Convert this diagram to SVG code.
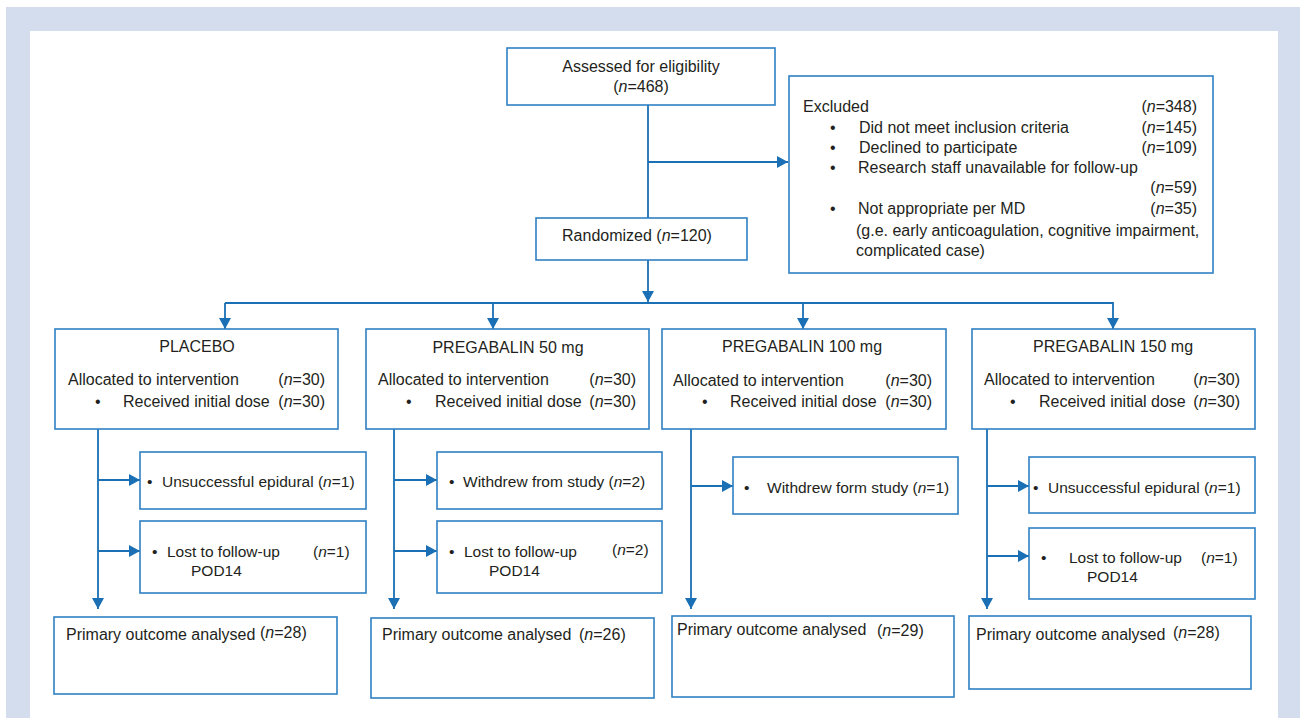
<svg xmlns="http://www.w3.org/2000/svg" width="1300" height="718" viewBox="0 0 1300 718">
<style>
text{font-family:"Liberation Sans",Arial,sans-serif;font-size:16px;fill:#231f20}
.s{font-size:15.5px}
.i{font-style:italic}
.box{fill:#fff;stroke:#2f80c3;stroke-width:1.6}
.c{fill:none;stroke:#1a6fb5;stroke-width:1.8}
.m{text-anchor:middle}
.e{text-anchor:end}
</style>
<defs>
<marker id="ah" markerUnits="userSpaceOnUse" markerWidth="12" markerHeight="12" refX="11" refY="6" orient="auto">
<path d="M0,0 L11,6 L0,12 z" fill="#1a6fb5"/>
</marker>
</defs>
<rect x="6" y="7" width="1294" height="711" fill="#d4ddee"/>
<rect x="30" y="31" width="1248" height="687" fill="#fff"/>

<g id="connectors">
<line class="c" x1="648" y1="105" x2="648" y2="218"/>
<line class="c" x1="648" y1="162" x2="788" y2="162" marker-end="url(#ah)"/>
<line class="c" x1="648" y1="260" x2="648" y2="302" marker-end="url(#ah)"/>
<polyline class="c" points="225,303 1113,303 1113,329" marker-end="url(#ah)"/>
<line class="c" x1="225" y1="303" x2="225" y2="329" marker-end="url(#ah)"/>
<line class="c" x1="493" y1="303" x2="493" y2="329" marker-end="url(#ah)"/>
<line class="c" x1="803" y1="303" x2="803" y2="329" marker-end="url(#ah)"/>
<line class="c" x1="98" y1="429" x2="98" y2="609" marker-end="url(#ah)"/>
<line class="c" x1="98" y1="480" x2="140" y2="480" marker-end="url(#ah)"/>
<line class="c" x1="98" y1="551" x2="140" y2="551" marker-end="url(#ah)"/>
<line class="c" x1="394" y1="429" x2="394" y2="609" marker-end="url(#ah)"/>
<line class="c" x1="394" y1="480" x2="437" y2="480" marker-end="url(#ah)"/>
<line class="c" x1="394" y1="551" x2="437" y2="551" marker-end="url(#ah)"/>
<line class="c" x1="691" y1="429" x2="691" y2="609" marker-end="url(#ah)"/>
<line class="c" x1="691" y1="486" x2="733" y2="486" marker-end="url(#ah)"/>
<line class="c" x1="987" y1="429" x2="987" y2="609" marker-end="url(#ah)"/>
<line class="c" x1="987" y1="486" x2="1029" y2="486" marker-end="url(#ah)"/>
<line class="c" x1="987" y1="556" x2="1029" y2="556" marker-end="url(#ah)"/>
</g>

<g id="assessed">
<rect class="box" x="507" y="48" width="268" height="57"/>
<text class="m" x="641" y="72">Assessed for eligibility</text>
<text class="m" x="641" y="92">(<tspan class="i">n</tspan>=468)</text>
</g>

<g id="excluded">
<rect class="box" x="789" y="76" width="424" height="197"/>
<text x="803" y="112">Excluded</text>
<text class="e" x="1197" y="112">(<tspan class="i">n</tspan>=348)</text>
<text x="830" y="133">•</text>
<text x="859" y="133">Did not meet inclusion criteria</text>
<text class="e" x="1197" y="133">(<tspan class="i">n</tspan>=145)</text>
<text x="830" y="153">•</text>
<text x="859" y="153">Declined to participate</text>
<text class="e" x="1197" y="153">(<tspan class="i">n</tspan>=109)</text>
<text x="830" y="173">•</text>
<text x="858" y="173">Research staff unavailable for follow-up</text>
<text class="e" x="1197" y="193">(<tspan class="i">n</tspan>=59)</text>
<text x="830" y="214">•</text>
<text x="858" y="214">Not appropriate per MD</text>
<text class="e" x="1197" y="214">(<tspan class="i">n</tspan>=35)</text>
<text x="856" y="236">(g.e. early anticoagulation, cognitive impairment,</text>
<text x="856" y="256">complicated case)</text>
</g>

<g id="randomized">
<rect class="box" x="536" y="218" width="211" height="42"/>
<text class="m" x="637" y="241">Randomized (<tspan class="i">n</tspan>=120)</text>
</g>

<g id="placebo">
<rect class="box" x="55" y="329" width="283" height="100"/>
<text class="m" x="197" y="352">PLACEBO</text>
<text x="68" y="385">Allocated to intervention</text>
<text class="e" x="325" y="385">(<tspan class="i">n</tspan>=30)</text>
<text x="95" y="407">•</text>
<text x="123" y="407">Received initial dose</text>
<text class="e" x="325" y="407">(<tspan class="i">n</tspan>=30)</text>
</g>

<g id="preg50">
<rect class="box" x="366" y="329" width="283" height="100"/>
<text class="m" x="508" y="353">PREGABALIN 50 mg</text>
<text x="378" y="385">Allocated to intervention</text>
<text class="e" x="636" y="385">(<tspan class="i">n</tspan>=30)</text>
<text x="406" y="407">•</text>
<text x="435" y="407">Received initial dose</text>
<text class="e" x="636" y="407">(<tspan class="i">n</tspan>=30)</text>
</g>

<g id="preg100">
<rect class="box" x="662" y="329" width="284" height="100"/>
<text class="m" x="802" y="352">PREGABALIN 100 mg</text>
<text x="673" y="386">Allocated to intervention</text>
<text class="e" x="932" y="386">(<tspan class="i">n</tspan>=30)</text>
<text x="702" y="407">•</text>
<text x="730" y="407">Received initial dose</text>
<text class="e" x="932" y="407">(<tspan class="i">n</tspan>=30)</text>
</g>

<g id="preg150">
<rect class="box" x="972" y="329" width="283" height="100"/>
<text class="m" x="1113" y="352">PREGABALIN 150 mg</text>
<text x="984" y="385">Allocated to intervention</text>
<text class="e" x="1240" y="385">(<tspan class="i">n</tspan>=30)</text>
<text x="1010" y="407">•</text>
<text x="1039" y="407">Received initial dose</text>
<text class="e" x="1240" y="407">(<tspan class="i">n</tspan>=30)</text>
</g>

<g id="placebo-excl1">
<rect class="box" x="140" y="452" width="226" height="57"/>
<text class="s" x="147" y="487">•</text>
<text class="s" x="162" y="487">Unsuccessful epidural (<tspan class="i">n</tspan>=1)</text>
</g>
<g id="placebo-excl2">
<rect class="box" x="140" y="521" width="226" height="72"/>
<text class="s" x="152" y="557">•</text>
<text class="s" x="167" y="557">Lost to follow-up</text>
<text class="s" x="313" y="557">(<tspan class="i">n</tspan>=1)</text>
<text class="s" x="191" y="576">POD14</text>
</g>

<g id="preg50-excl1">
<rect class="box" x="437" y="452" width="225" height="57"/>
<text class="s" x="449" y="487">•</text>
<text class="s" x="463" y="487">Withdrew from study (<tspan class="i">n</tspan>=2)</text>
</g>
<g id="preg50-excl2">
<rect class="box" x="437" y="521" width="225" height="72"/>
<text class="s" x="449" y="557">•</text>
<text class="s" x="464" y="557">Lost to follow-up</text>
<text class="s" x="612" y="555">(<tspan class="i">n</tspan>=2)</text>
<text class="s" x="489" y="576">POD14</text>
</g>

<g id="preg100-excl1">
<rect class="box" x="733" y="457" width="225" height="57"/>
<text class="s" x="744" y="493">•</text>
<text class="s" x="767" y="493">Withdrew form study (<tspan class="i">n</tspan>=1)</text>
</g>

<g id="preg150-excl1">
<rect class="box" x="1029" y="457" width="226" height="56"/>
<text class="s" x="1033" y="493">•</text>
<text class="s" x="1048" y="493">Unsuccessful epidural (<tspan class="i">n</tspan>=1)</text>
</g>
<g id="preg150-excl2">
<rect class="box" x="1029" y="528" width="226" height="71"/>
<text class="s" x="1041" y="563">•</text>
<text class="s" x="1069" y="563">Lost to follow-up</text>
<text class="s" x="1201" y="563">(<tspan class="i">n</tspan>=1)</text>
<text class="s" x="1087" y="582">POD14</text>
</g>

<g id="placebo-outcome">
<rect class="box" x="54" y="617" width="283" height="77"/>
<text x="66" y="640">Primary outcome analysed</text>
<text x="260" y="638">(<tspan class="i">n</tspan>=28)</text>
</g>
<g id="preg50-outcome">
<rect class="box" x="371" y="618" width="283" height="80"/>
<text x="382" y="640">Primary outcome analysed</text>
<text x="579" y="640">(<tspan class="i">n</tspan>=26)</text>
</g>
<g id="preg100-outcome">
<rect class="box" x="672" y="616" width="282" height="81"/>
<text x="677" y="635">Primary outcome analysed</text>
<text x="877" y="636">(<tspan class="i">n</tspan>=29)</text>
</g>
<g id="preg150-outcome">
<rect class="box" x="969" y="616" width="282" height="73"/>
<text x="976" y="640">Primary outcome analysed</text>
<text x="1173" y="638">(<tspan class="i">n</tspan>=28)</text>
</g>
</svg>
